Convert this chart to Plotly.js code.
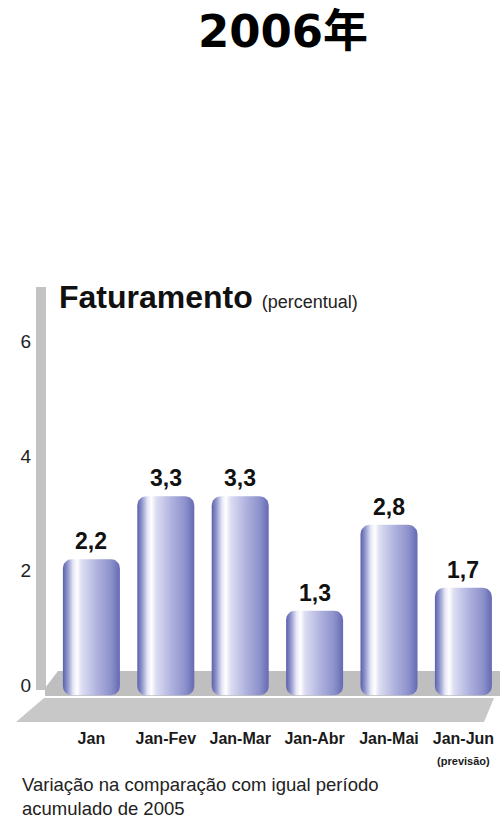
<!DOCTYPE html>
<html>
<head>
<meta charset="utf-8">
<script src="https://cdn.plot.ly/plotly-3.0.1.min.js"></script>
<style>html,body{margin:0;padding:0;background:#fff;}#chart{width:500px;height:822px;}</style>
</head>
<body>
<div id="chart"></div>
<script>
// ---- data ----
const categories = ['Jan', 'Jan-Fev', 'Jan-Mar', 'Jan-Abr', 'Jan-Mai', 'Jan-Jun'];
const tickLabels = ['Jan', 'Jan-Fev', 'Jan-Mar', 'Jan-Abr', 'Jan-Mai', 'Jan-Jun<br><span style="font-size:11px">(previsão)</span>'];
const values = [2.2, 3.3, 3.3, 1.3, 2.8, 1.7];
const yTicks = [0, 2, 4, 6];

// ---- style ----
const W = 500, H = 822;
const NARROW = "'Liberation Sans Narrow', 'Arial Narrow', 'Liberation Sans', Arial, sans-serif";
const SANS = "'Liberation Sans', Arial, sans-serif";
const BAR_W = 0.766;      // category units
const BAR_BASE = -0.18;   // 3D base depth below zero
const RX = 0.12, RY = 0.16; // corner radius in axis units
const gradient = [[0,'#5a60ac'],[0.08,'#8f94cc'],[0.18,'#e6e7f6'],[0.25,'#ffffff'],[0.33,'#dcdef2'],[0.6,'#afb2de'],[0.85,'#8b90ca'],[1,'#6469b4']];

const px = x => x / W;
const py = y => 1 - y / H;
const P = (x, y) => px(x) + ',' + py(y);

function arc(cx, cy, a0, a1, pts) {
  const n = 8;
  for (let k = 0; k <= n; k++) {
    const a = a0 + (a1 - a0) * k / n;
    pts.push([cx + RX * Math.cos(a), cy + RY * Math.sin(a)]);
  }
}
function barOutline(i, v) {
  const xl = i - BAR_W / 2, xr = i + BAR_W / 2, yb = BAR_BASE, yt = v;
  const pts = [];
  arc(xl + RX, yt - RY, Math.PI, Math.PI / 2, pts);        // top-left
  arc(xr - RX, yt - RY, Math.PI / 2, 0, pts);              // top-right
  arc(xr - RX, yb + RY, 0, -Math.PI / 2, pts);             // bottom-right
  arc(xl + RX, yb + RY, -Math.PI / 2, -Math.PI, pts);      // bottom-left
  pts.push(pts[0]);
  return pts;
}

const traces = values.map((v, i) => {
  const pts = barOutline(i, v);
  return {
    type: 'scatter', mode: 'lines', fill: 'toself',
    x: pts.map(p => p[0]), y: pts.map(p => p[1]),
    line: {width: 0, color: 'rgba(0,0,0,0)'},
    fillgradient: {type: 'horizontal', colorscale: gradient},
    hoverinfo: 'skip', showlegend: false, name: categories[i]
  };
});

const annotations = values.map((v, i) => ({
  x: i, y: v, xref: 'x', yref: 'y', xanchor: 'center', yanchor: 'bottom', yshift: 3,
  text: v.toFixed(1).replace('.', ','), showarrow: false,
  font: {family: NARROW, size: 23, color: '#111', weight: 'bold'}
}));
annotations.push({
  xref: 'paper', yref: 'paper', x: px(57), y: py(297), xanchor: 'left', yanchor: 'middle',
  showarrow: false,
  text: '<b>Faturamento</b> <span style="font-size:18px;color:#222">(percentual)</span>',
  font: {family: SANS, size: 32, color: '#111'}
});
annotations.push({
  xref: 'paper', yref: 'paper', x: px(20), y: py(772), xanchor: 'left', yanchor: 'top',
  align: 'left', showarrow: false,
  text: 'Variação na comparação com igual período<br>acumulado de 2005',
  font: {family: SANS, size: 18.5, color: '#222'}
});

const shapes = [
  {type: 'rect', xref: 'paper', yref: 'paper', x0: px(36), x1: px(46), y0: py(690), y1: py(287),
   fillcolor: '#c3c3c3', line: {width: 0}, layer: 'below'},
  {type: 'path', xref: 'paper', yref: 'paper', layer: 'below', fillcolor: '#bfbfbf', line: {width: 0},
   path: 'M' + P(58, 671) + ' L' + P(500, 671) + ' L' + P(500, 696) + ' L' + P(45, 696) + ' L' + P(45, 688) + ' Z'},
  {type: 'path', xref: 'paper', yref: 'paper', layer: 'below', fillcolor: '#c8c8c8', line: {width: 0},
   path: 'M' + P(44, 698) + ' L' + P(494, 698) + ' L' + P(484, 722) + ' L' + P(16, 722) + ' Z'}
];

const c0 = 91.4, step = 74.4;   // pixel of category 0, pixels per category
const y0 = 685, ystep = 57.2;   // pixel of value 0, pixels per unit

const layout = {
  width: W, height: H,
  margin: {l: 0, r: 0, t: 0, b: 0, pad: 0},
  paper_bgcolor: '#fff', plot_bgcolor: 'rgba(0,0,0,0)',
  showlegend: false,
  title: {text: '2006年', x: px(283), xanchor: 'center', y: py(31), yanchor: 'middle', automargin: false,
          font: {family: "'DejaVu Sans', 'Noto Sans CJK SC', sans-serif", size: 45, weight: 'bold', color: '#000'}},
  xaxis: {range: [(0 - c0) / step, (W - c0) / step], tickvals: categories.map((c, i) => i), ticktext: tickLabels,
          anchor: 'free', position: py(722), showgrid: false, zeroline: false, showline: false, ticks: '',
          ticklabelstandoff: 5, automargin: false, fixedrange: true,
          tickfont: {family: SANS, size: 16, color: '#1a1a1a', weight: 'bold'}},
  yaxis: {range: [(y0 - H) / ystep, y0 / ystep], tickvals: yTicks, ticktext: yTicks.map(String),
          anchor: 'free', position: px(45), showgrid: false, zeroline: false, showline: false, ticks: '',
          ticklabelstandoff: 14, automargin: false, fixedrange: true,
          tickfont: {family: NARROW, size: 19, color: '#222'}},
  shapes: shapes,
  annotations: annotations
};

Plotly.newPlot('chart', traces, layout, {staticPlot: true, displayModeBar: false});
</script>
</body>
</html>
